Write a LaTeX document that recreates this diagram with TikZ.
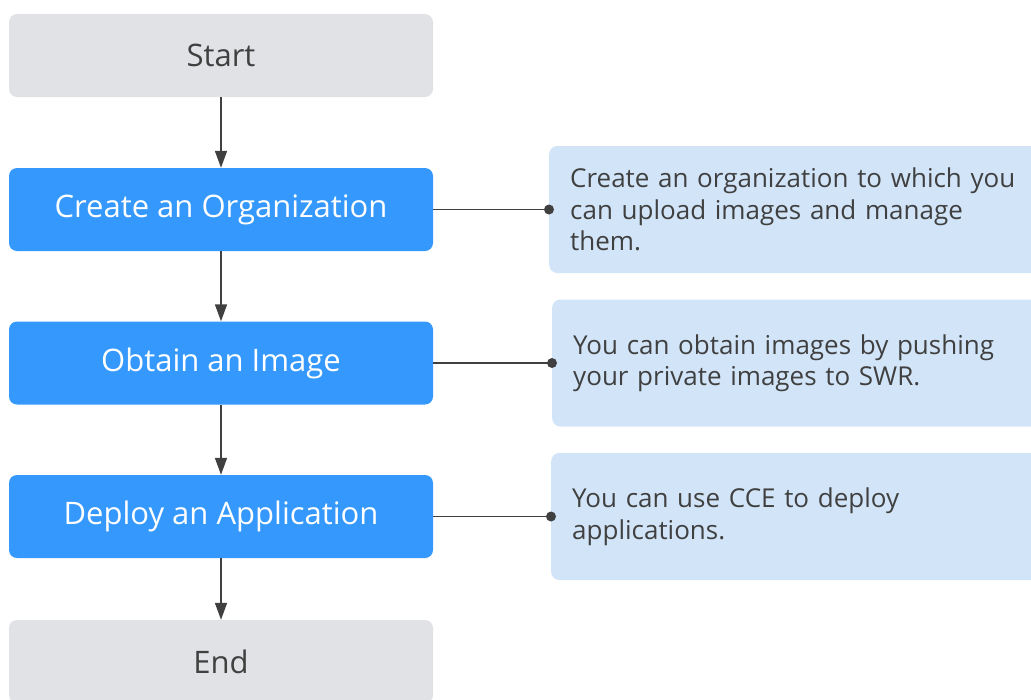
\documentclass[tikz,border=0pt]{standalone}
\usepackage{fontspec}
\setmainfont{Open Sans}
\usetikzlibrary{arrows.meta}
\definecolor{boxgray}{HTML}{E0E2E6}
\definecolor{boxblue}{HTML}{3598FC}
\definecolor{descblue}{HTML}{D2E5F8}
\definecolor{ink}{HTML}{404040}
\tikzset{
  base/.style={rectangle, rounded corners=8pt, minimum width=424pt, minimum height=83pt, inner sep=0pt, font=\fontsize{31}{36}\selectfont},
  endbox/.style={base, fill=boxgray, text=ink},
  stepbox/.style={base, fill=boxblue, text=white},
  descbox/.style={rectangle, rounded corners=8pt, fill=descblue, text=ink, anchor=west, minimum width=491pt, minimum height=127pt, inner xsep=21pt, inner ysep=0pt, text width=460pt, align=left, font=\fontsize{26}{31.5}\selectfont},
  flow/.style={draw=ink, line width=1.6pt, -{Triangle[length=17pt,width=12pt]}},
  link/.style={draw=ink, line width=1.6pt},
}
\begin{document}
\begin{tikzpicture}[x=1pt,y=-1pt]
\clip (0,0) rectangle (1031,699);
\useasboundingbox (0,0) rectangle (1031,699);
\node[endbox] (start) at (221,55.5) {Start};
\node[stepbox] (org) at (221,209.5) {Create an Organization};
\node[stepbox] (img) at (221,363) {Obtain an Image};
\node[stepbox] (app) at (221,516.5) {Deploy an Application};
\node[endbox] (end) at (221,661.5) {End};
\node[descbox] (d1) at (549,209.5) {Create an organization to which you\\can upload images and manage\\them.};
\node[descbox] (d2) at (552,363) {You can obtain images by pushing\\your private images to SWR.};
\node[descbox] (d3) at (551,516.5) {You can use CCE to deploy\\applications.};
\draw[flow] (start) -- (org);
\draw[flow] (org) -- (img);
\draw[flow] (img) -- (app);
\draw[flow] (app) -- (end);
\draw[link] (org.east) -- (d1.west);
\draw[link] (img.east) -- (d2.west);
\draw[link] (app.east) -- (d3.west);
\fill[ink] (d1.west) circle (5pt);
\fill[ink] (d2.west) circle (5pt);
\fill[ink] (d3.west) circle (5pt);
\end{tikzpicture}
\end{document}
